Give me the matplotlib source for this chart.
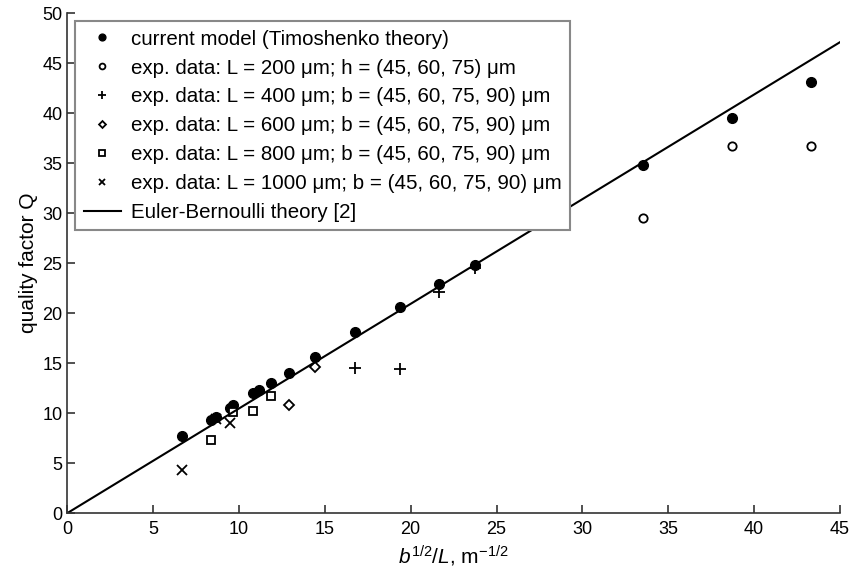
import matplotlib
matplotlib.use('Agg')
import matplotlib.pyplot as plt

plt.rcParams['font.family'] = ['Liberation Sans', 'DejaVu Sans']
plt.rcParams['mathtext.fontset'] = 'custom'
plt.rcParams['mathtext.rm'] = 'Liberation Sans'
plt.rcParams['mathtext.it'] = 'Liberation Sans:italic'

# current model (Timoshenko theory)
model_x = [6.71, 8.39, 8.66, 9.49, 9.68, 10.83, 11.18, 11.86, 12.91, 14.43,
           16.77, 19.36, 21.65, 23.72, 33.54, 38.73, 43.30]
model_q = [7.7, 9.3, 9.6, 10.5, 10.8, 12.0, 12.3, 13.0, 14.0, 15.6,
           18.1, 20.6, 22.9, 24.8, 34.8, 39.5, 43.1]

# experimental data
l200_x = [33.54, 38.73, 43.30]
l200_q = [29.5, 36.7, 36.7]
l400_x = [16.77, 19.36, 21.65, 23.72]
l400_q = [14.5, 14.4, 22.1, 24.5]
l600_x = [12.91, 14.43]
l600_q = [10.8, 14.6]
l800_x = [8.39, 9.68, 10.83, 11.86]
l800_q = [7.3, 10.1, 10.2, 11.7]
l1000_x = [6.71, 8.66, 9.49]
l1000_q = [4.3, 9.4, 9.0]

# Euler-Bernoulli theory
eb_x = [0, 45]
eb_q = [0, 47.1]

fig = plt.figure(figsize=(8.51, 5.74), dpi=100)
ax = fig.add_axes([0.079, 0.106, 0.908, 0.871])

ax.plot(model_x, model_q, 'o', color='black', ms=7,
        label='current model (Timoshenko theory)')
ax.plot(l200_x, l200_q, 'o', mfc='white', mec='black', mew=1.3, ms=6,
        label='exp. data: L = 200 μm; h = (45, 60, 75) μm')
ax.plot(l400_x, l400_q, '+', color='black', mew=1.3, ms=8,
        label='exp. data: L = 400 μm; b = (45, 60, 75, 90) μm')
ax.plot(l600_x, l600_q, 'D', mfc='white', mec='black', mew=1.3, ms=5,
        label='exp. data: L = 600 μm; b = (45, 60, 75, 90) μm')
ax.plot(l800_x, l800_q, 's', mfc='white', mec='black', mew=1.3, ms=6,
        label='exp. data: L = 800 μm; b = (45, 60, 75, 90) μm')
ax.plot(l1000_x, l1000_q, 'x', color='black', mew=1.3, ms=7,
        label='exp. data: L = 1000 μm; b = (45, 60, 75, 90) μm')
ax.plot(eb_x, eb_q, '-', color='black', lw=1.5,
        label='Euler-Bernoulli theory [2]')

ax.set_xlim(0, 45)
ax.set_ylim(0, 50)
ax.set_xticks(range(0, 46, 5))
ax.set_yticks(range(0, 51, 5))
ax.spines['top'].set_visible(False)
ax.spines['right'].set_visible(False)
for s in ['left', 'bottom']:
    ax.spines[s].set_color('#333333')
    ax.spines[s].set_linewidth(1.2)
ax.tick_params(direction='in', length=6, width=1.2, labelsize=13, color='#333333')
ax.tick_params(axis='x', pad=6)

ax.set_xlabel('$b^{1/2}/L$, m$^{-1/2}$', fontsize=15, labelpad=4)
ax.set_ylabel('quality factor Q', fontsize=15, labelpad=3)

leg = ax.legend(loc='upper left', fontsize=14.8, frameon=True, fancybox=False,
                edgecolor='#888888', framealpha=1, borderaxespad=0.4,
                labelspacing=0.48, handlelength=1.8, handletextpad=0.5,
                markerscale=0.7, borderpad=0.4)
leg.get_frame().set_linewidth(1.5)

plt.savefig('out.png', dpi=100)
